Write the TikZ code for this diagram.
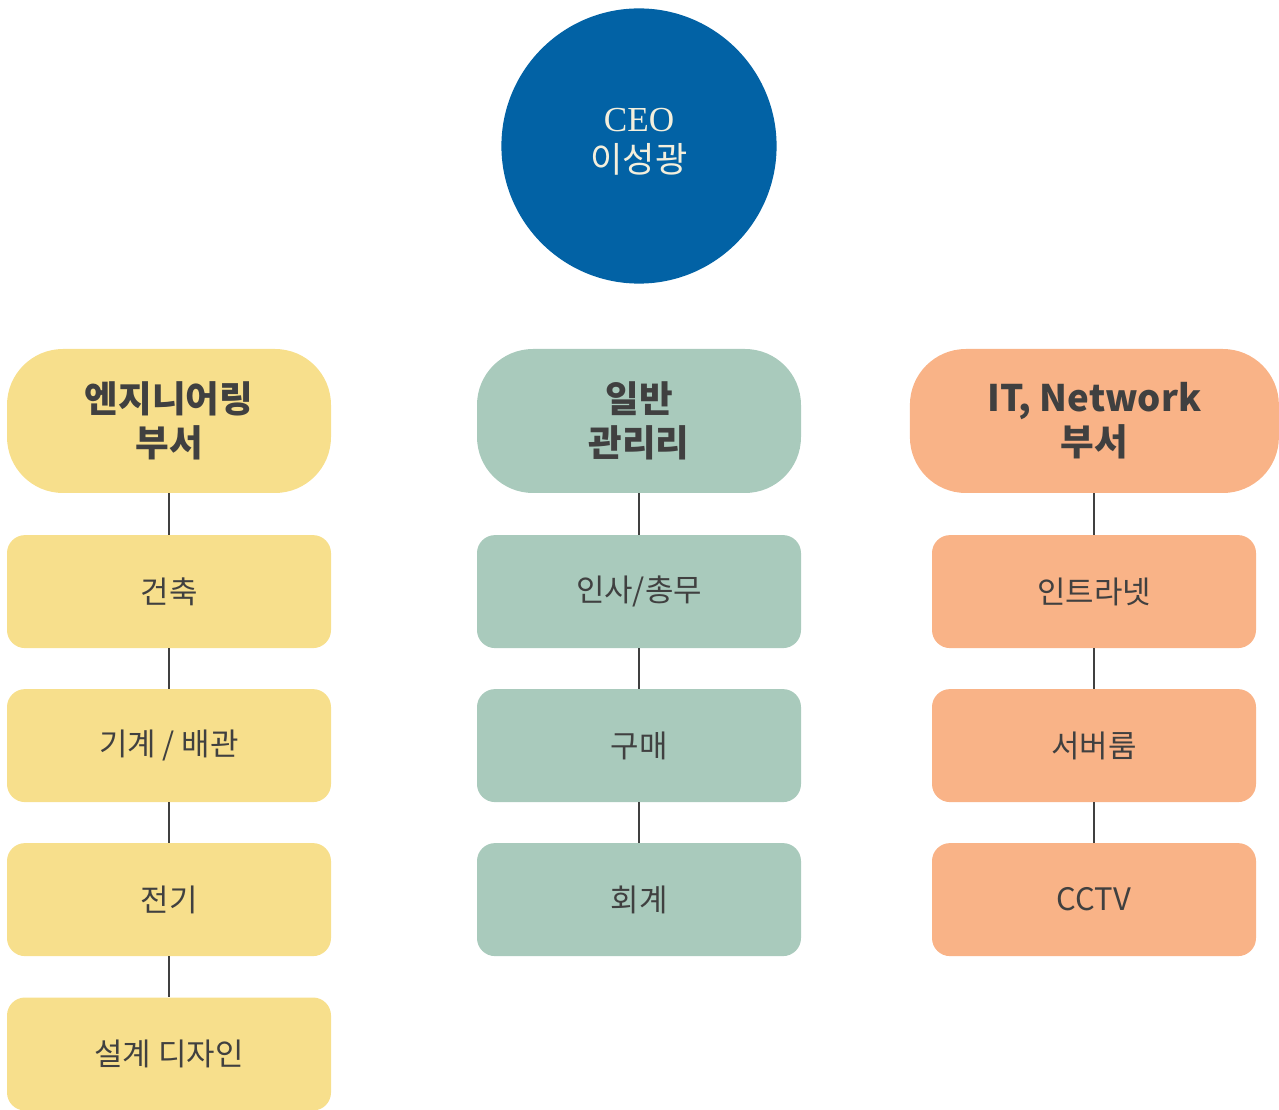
\documentclass[tikz,border=0pt]{standalone}
\usepackage{fontspec}
\setmainfont{Noto Sans CJK KR}
\newfontfamily\ceofont{Liberation Serif}
\usepackage{tikz}
\usetikzlibrary{positioning}

\definecolor{ceoblue}{HTML}{0262A5}
\definecolor{cream}{HTML}{F4EFDC}
\definecolor{engyellow}{HTML}{F7DF8C}
\definecolor{admgreen}{HTML}{A9CABC}
\definecolor{itorange}{HTML}{F9B387}
\definecolor{inkgray}{HTML}{404040}

\tikzset{
	ceo/.style={circle, fill=ceoblue, minimum size=6.88cm},
	ceoname/.style={align=center, text=cream, font=\fontsize{25}{28}\selectfont},
	dept/.style={rounded corners=1.4cm, minimum width=8.1cm, minimum height=3.6cm, align=center, text=inkgray, font=\fontsize{26}{31.5}\selectfont\bfseries},
	team/.style={rounded corners=4.5mm, minimum width=8.1cm, minimum height=2.825cm, align=center, text=inkgray, font=\fontsize{22}{26}\selectfont},
	link/.style={line width=1.4pt, color=inkgray}
}

\begin{document}
\begin{tikzpicture}
		\useasboundingbox (0,0) rectangle (31.975,-27.75);

		\node[ceo] (ceo) at (15.975,-3.65) {};
		\node[ceoname] (name) at ([yshift=1.1mm]ceo.center) {{\ceofont CEO}\\[1pt]이성광};

		% departments
		\node[dept, fill=engyellow] (eng) at (4.225,-10.525) {엔지니어링\\부서};
		\node[dept, fill=admgreen] (adm) at (15.975,-10.525) {일반\\관리리};
		\node[dept, fill=itorange, minimum width=9.225cm] (it) at (27.36,-10.525) {IT, Network\\부서};

		% engineering
		\node[team, fill=engyellow] (arch) at (4.225,-14.79) {건축};
		\node[team, fill=engyellow] (mech) at (4.225,-18.64) {기계 / 배관};
		\node[team, fill=engyellow] (elec) at (4.225,-22.49) {전기};
		\node[team, fill=engyellow] (design) at (4.225,-26.35) {설계 디자인};

		% administration
		\node[team, fill=admgreen] (hr) at (15.975,-14.79) {인사/총무};
		\node[team, fill=admgreen] (buy) at (15.975,-18.64) {구매};
		\node[team, fill=admgreen] (acct) at (15.975,-22.49) {회계};

		% it
		\node[team, fill=itorange] (intra) at (27.35,-14.79) {인트라넷};
		\node[team, fill=itorange] (server) at (27.35,-18.64) {서버룸};
		\node[team, fill=itorange] (cctv) at (27.35,-22.49) {CCTV};

		\draw[link] (eng) -- (arch);
		\draw[link] (arch) -- (mech);
		\draw[link] (mech) -- (elec);
		\draw[link] (elec) -- (design);

		\draw[link] (adm) -- (hr);
		\draw[link] (hr) -- (buy);
		\draw[link] (buy) -- (acct);

		\draw[link] (it.south -| intra) -- (intra);
		\draw[link] (intra) -- (server);
		\draw[link] (server) -- (cctv);
	\end{tikzpicture}
\end{document}
